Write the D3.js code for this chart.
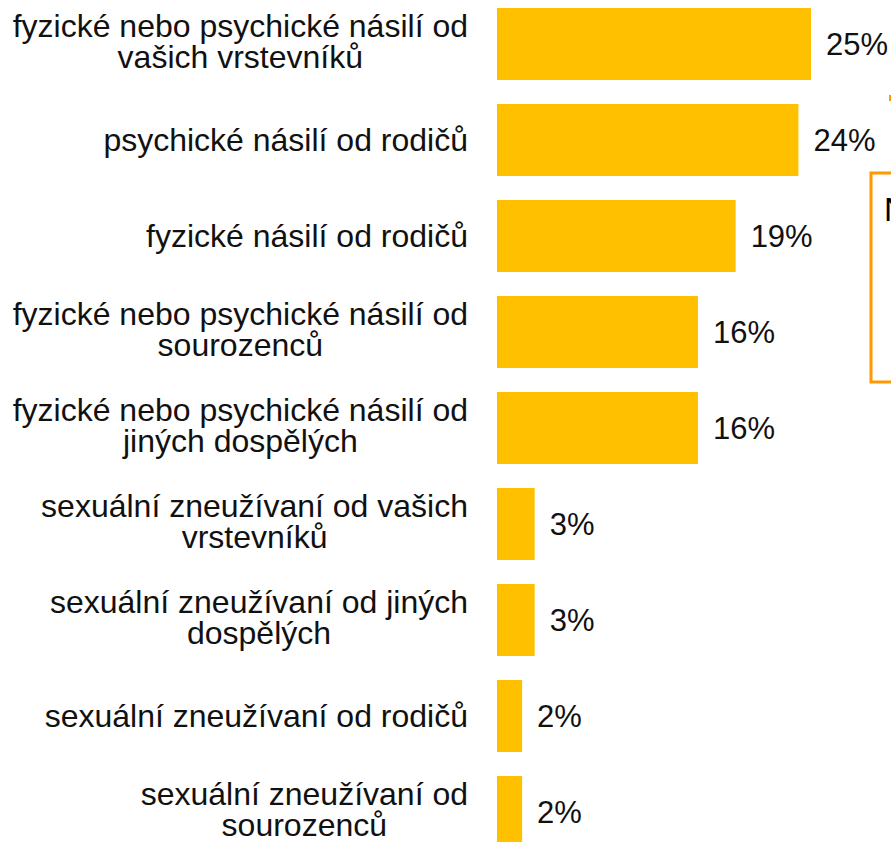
<!DOCTYPE html>
<html><head><meta charset="utf-8">
<script src="https://cdn.jsdelivr.net/npm/d3@7"></script>
<style>body{margin:0;background:#fff}svg{display:block}</style>
</head><body>
<script>
const categories = [
  ["fyzické nebo psychické násilí od","vašich vrstevníků"],
  ["psychické násilí od rodičů"],
  ["fyzické násilí od rodičů"],
  ["fyzické nebo psychické násilí od","sourozenců"],
  ["fyzické nebo psychické násilí od","jiných dospělých"],
  ["sexuální zneužívaní od vašich","vrstevníků"],
  ["sexuální zneužívaní od jiných","dospělých"],
  ["sexuální zneužívaní od rodičů"],
  ["sexuální zneužívaní od","sourozenců"]
];
const values = [25, 24, 19, 16, 16, 3, 3, 2, 2];
const valueLabels = ["25%","24%","19%","16%","16%","3%","3%","2%","2%"];

const W = 891, H = 842;
const svg = d3.select("body").append("svg").attr("width", W).attr("height", H);

const x = d3.scaleLinear().domain([0, 25]).range([497, 811]);
const y = d3.scaleBand().domain(d3.range(categories.length)).range([-4, 860]).paddingInner(0.25).paddingOuter(0.125);

const bw = y.bandwidth();
svg.selectAll("rect.bar").data(values).join("rect")
  .attr("class","bar")
  .attr("x", x(0))
  .attr("y", (d,i) => y(i))
  .attr("width", d => x(d) - x(0))
  .attr("height", bw)
  .attr("fill", "#FFC000");

const font = "'Liberation Sans', Arial, sans-serif";
const rightEdge = 468;
categories.forEach((lines, i) => {
  const c = y(i) + bw/2;
  const first = lines.length === 1 ? c + 11 : c - 7;
  const g = svg.append("g");
  const texts = lines.map((ln, j) => g.append("text")
    .attr("font-family", font)
    .attr("font-size", 32)
    .attr("fill","#111")
    .attr("text-anchor","middle")
    .attr("y", first + j*31)
    .text(ln));
  const maxW = d3.max(texts, t => t.node().getComputedTextLength());
  texts.forEach(t => t.attr("x", rightEdge - maxW/2));
});

svg.selectAll("text.val").data(values).join("text")
  .attr("class","val")
  .attr("x", d => x(d) + 15)
  .attr("y", (d,i) => y(i) + bw/2 + 11)
  .attr("font-family", font)
  .attr("font-size", 31)
  .attr("fill","#111")
  .text((d,i) => valueLabels[i]);

// partially visible annotation box on the right edge
svg.append("rect").attr("x", 871).attr("y", 173).attr("width", 60).attr("height", 209)
  .attr("fill","none").attr("stroke","#FF9900").attr("stroke-width", 3);
svg.append("text").attr("x", 884).attr("y", 221).attr("font-family", font)
  .attr("font-size", 33).attr("fill","#000").text("N");
svg.append("line").attr("x1", 890).attr("x2", 890).attr("y1", 95).attr("y2", 101)
  .attr("stroke","#FF9900").attr("stroke-width", 2);
</script>
</body></html>
